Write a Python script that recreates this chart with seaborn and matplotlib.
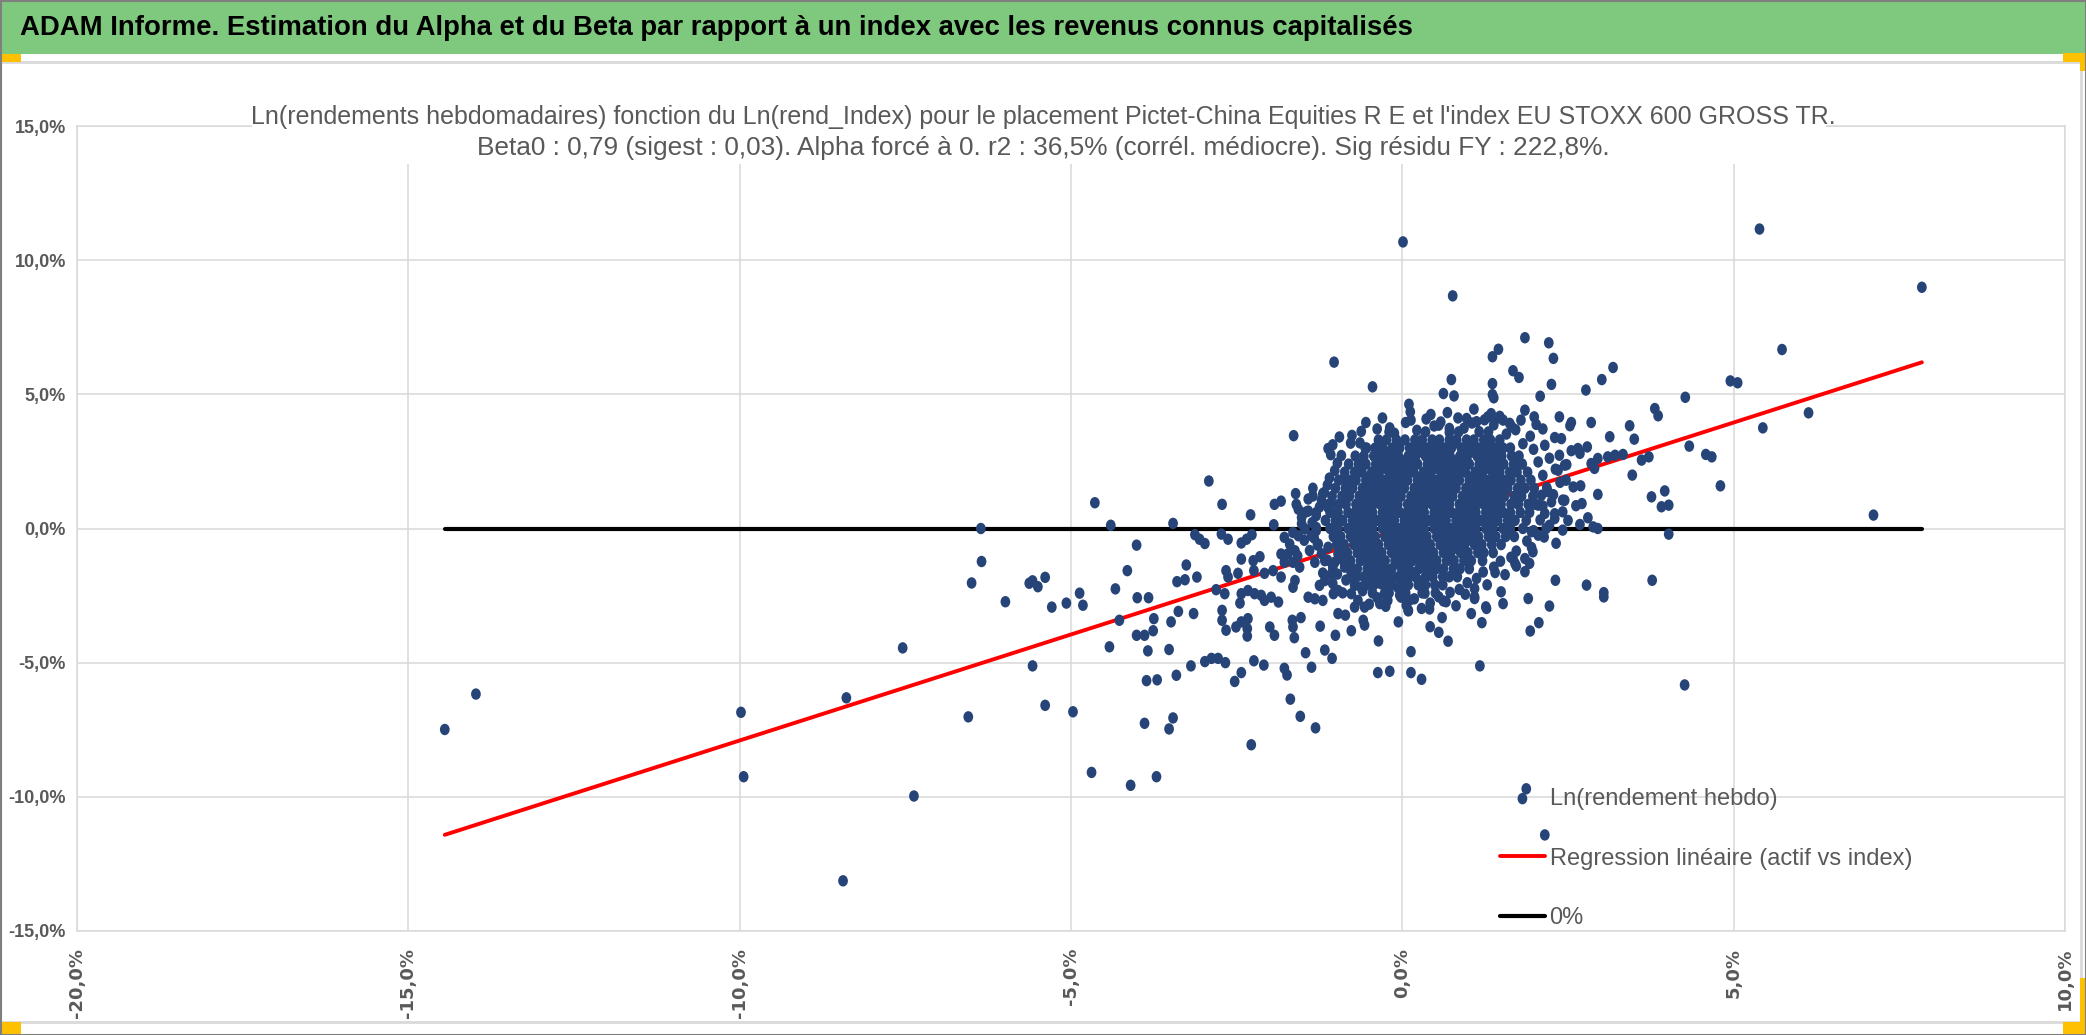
import numpy as np
import pandas as pd
import matplotlib
matplotlib.use("Agg")
import matplotlib.pyplot as plt
import seaborn as sns
from matplotlib.patches import Rectangle
from matplotlib.lines import Line2D
from matplotlib.path import Path
from matplotlib.transforms import Affine2D
from matplotlib.markers import MarkerStyle
from matplotlib.ticker import FuncFormatter

# ---------------------------------------------------------------- texts
banner_title = ("ADAM Informe. Estimation du Alpha et du Beta par rapport à un index "
                "avec les revenus connus capitalisés")
title_line1 = ("Ln(rendements hebdomadaires) fonction du Ln(rend_Index) pour le placement "
               "Pictet-China Equities R E et l'index EU STOXX 600 GROSS TR.")
title_line2 = ("Beta0 : 0,79 (sigest : 0,03). Alpha forcé à 0. r2 : 36,5% (corrél. médiocre). "
               "Sig résidu FY : 222,8%.")
legend_labels = ["Ln(rendement hebdo)", "Regression linéaire (actif vs index)", "0%"]

beta0 = 0.79
x_ticks = [-20, -15, -10, -5, 0, 5, 10]
y_ticks = [-15, -10, -5, 0, 5, 10, 15]

# ---------------------------------------------------------------- data (% values)
# isolated points on the left side (index return, asset return)
left_x = [-14.45, -13.98, -9.98, -9.94, -8.39, -8.44, -7.54, -7.37, -6.55, -6.36, -6.35, -6.50,
          -5.99, -5.63, -5.58, -5.50, -5.39, -5.29, -5.07, -4.87, -4.82, -4.33, -4.42, -5.58,
          -5.39, -4.97, -4.69, -4.64, -4.40]
left_y = [-7.49, -6.17, -6.85, -9.25, -6.31, -13.13, -4.45, -9.97, -7.02, 0.00, -1.23, -2.03,
          -2.73, -2.04, -1.95, -2.17, -1.82, -2.93, -2.78, -2.41, -2.86, -2.25, -4.41, -5.12,
          -6.59, -6.83, -9.09, 0.96, 0.12]

# points between -4.5% and 0% of index return
mid_left_pts = [
    (-0.45, 5.28), (-1.03, 6.20), (-1.64, 3.46), (-0.76, 3.47), (-0.64, 3.19), (-0.54, 3.00),
    (-0.37, 2.85), (-0.33, 2.78), (-1.05, 3.12), (-1.08, 2.75), (-2.92, 1.77), (-2.72, 0.90),
    (-1.61, 1.30), (-1.35, 1.21), (-1.20, 1.30), (-0.87, 1.89), (-0.85, 1.77), (-1.93, 0.90),
    (-1.83, 1.02), (-2.29, 0.51), (-3.46, 0.19), (-1.94, 0.14), (-4.01, -0.62), (-3.13, -0.23),
    (-3.06, -0.40), (-2.98, -0.56), (-2.73, -0.21), (-2.63, -0.40), (-2.43, -0.54), (-2.35, -0.40),
    (-2.27, -0.23), (-2.43, -1.14), (-2.15, -1.05), (-3.26, -1.36), (-4.15, -1.57), (-3.40, -1.98),
    (-3.28, -1.91), (-3.10, -1.81), (-4.00, -2.58), (-3.83, -2.58), (-2.66, -1.57), (-2.63, -1.81),
    (-2.48, -1.67), (-2.24, -1.57), (-2.25, -1.20), (-2.08, -1.67), (-1.95, -1.57), (-1.83, -1.81),
    (-2.81, -2.28), (-2.68, -2.43), (-2.43, -2.43), (-2.33, -2.31), (-2.23, -2.43), (-2.13, -2.49),
    (-2.08, -2.68), (-1.98, -2.56), (-1.87, -2.74), (-2.45, -2.78), (-4.27, -3.42), (-3.75, -3.36),
    (-3.49, -3.48), (-3.38, -3.09), (-3.15, -3.17), (-4.01, -3.98), (-3.89, -3.98), (-3.76, -3.81),
    (-3.84, -4.56), (-3.52, -4.51), (-2.72, -3.05), (-2.72, -3.42), (-2.66, -3.79), (-2.51, -3.67),
    (-2.43, -3.48), (-2.33, -3.36), (-2.34, -3.73), (-2.34, -4.01), (-2.00, -3.67), (-1.93, -3.98),
    (-1.66, -3.42), (-1.65, -3.67), (-1.53, -3.32), (-1.63, -4.07), (-1.24, -3.64), (-1.01, -3.98),
    (-0.97, -3.17), (-0.86, -3.23), (-0.77, -3.81), (-0.59, -3.42), (-0.57, -3.60), (-0.06, -3.48),
    (0.09, -3.07), (-0.36, -4.19), (-1.46, -4.63), (-1.17, -4.53), (-1.06, -4.84), (0.13, -4.59),
    (-3.19, -5.12), (-2.98, -4.96), (-2.88, -4.84), (-2.78, -4.84), (-2.67, -5.00), (-3.86, -5.67),
    (-3.70, -5.64), (-3.41, -5.47), (-2.53, -5.70), (-2.43, -5.37), (-2.24, -4.93), (-2.09, -5.09),
    (-1.78, -5.21), (-1.74, -5.46), (-1.37, -5.17), (-0.37, -5.37), (-0.19, -5.32), (0.13, -5.37),
    (-1.69, -6.36), (-1.54, -7.00), (-1.31, -7.43), (-3.89, -7.26), (-3.46, -7.06), (-3.52, -7.47),
    (-2.28, -8.06), (-3.71, -9.25), (-4.10, -9.57),
    (-1.57, 0.72), (-1.42, 0.65), (-1.52, 0.41), (-1.30, 0.59), (-1.12, 0.78), (-1.07, 0.90),
    (-1.47, -0.02), (-1.30, 0.04), (-1.37, -0.27), (-1.57, -0.27), (-1.78, -0.33), (-1.70, -0.58),
    (-1.83, -0.95), (-1.73, -0.95), (-1.62, -0.83), (-1.65, -1.26), (-1.78, -1.26), (-1.55, -1.44),
    (-1.62, -1.94), (-1.65, -2.19), (-1.42, -2.56), (-1.32, -2.62), (-1.20, -2.68), (-1.27, -0.58),
    (-1.12, -0.70), (-0.97, -0.95), (-1.17, -1.20), (-1.02, -1.26), (-1.32, -1.26), (-1.07, -1.69),
    (-1.17, -1.94), (-1.25, -2.12), (-0.97, -2.31), (-1.04, -2.43), (-0.87, -1.44), (-0.77, -1.69),
    (-0.72, -1.94), (-0.62, -2.19), (-0.77, -2.43), (-0.67, -2.68), (-0.57, -2.93), (-0.72, -2.93),
    (-0.52, -1.81), (-0.42, -1.94), (-0.32, -2.06), (-0.27, -2.43), (-0.22, -2.68), (-0.34, -2.80),
    (-0.17, -1.94), (-0.07, -2.19), (-0.02, -2.56), (0.09, -3.05),
]

# points with positive index return
right_pts = [
    (0.01, 10.68), (0.76, 8.67), (1.85, 7.11), (2.21, 6.92), (2.28, 6.34), (1.36, 6.40), (1.45, 6.68),
    (1.67, 5.88), (1.76, 5.63), (2.25, 5.37), (3.18, 6.00), (3.01, 5.55), (0.74, 5.55), (0.62, 5.03),
    (0.78, 4.94), (1.36, 5.40), (1.36, 4.99), (1.38, 4.87), (2.08, 4.93), (2.77, 5.16), (0.10, 4.63),
    (0.13, 4.04), (-0.19, 3.75), (0.43, 4.25), (3.81, 4.47), (3.86, 4.20), (3.43, 3.83), (3.50, 3.33),
    (3.13, 3.42), (2.85, 3.95), (2.55, 3.95), (2.53, 3.83), (2.37, 4.16), (1.99, 4.16), (1.85, 4.41),
    (3.72, 2.67), (3.61, 2.55), (3.47, 1.99), (3.76, 1.18), (3.96, 1.40), (4.02, 0.87), (3.91, 0.81),
    (3.77, -1.93), (2.78, -2.11), (3.04, -2.39), (3.04, -2.55), (2.31, -1.93), (2.22, -2.89),
    (1.90, -2.61), (2.65, 2.98), (2.79, 3.04), (2.68, 2.80), (2.95, 2.61), (3.10, 2.67), (3.21, 2.73),
    (3.33, 2.76), (2.85, 2.42), (2.90, 2.24), (2.69, 1.59), (2.71, 0.93), (2.95, 1.27), (2.42, 0.62),
    (2.42, 1.06), (2.42, -0.06), (2.68, 0.15), (2.80, 0.40), (2.88, 0.06), (2.95, 0.00), (2.45, 2.36),
    (2.37, 2.73), (2.35, 2.17), (2.47, 1.80), (2.10, 1.24), (2.20, 1.37), (2.25, 0.99), (2.05, 0.87),
    (2.15, 0.56), (2.30, 0.37), (2.17, 0.00), (2.05, -0.25), (1.95, -0.12), (1.97, -0.87),
    (1.92, -1.30), (1.85, -1.61), (1.70, -1.30), (1.67, -1.12), (1.40, -1.64), (1.49, -2.36),
    (1.52, -2.80), (1.27, -2.98), (1.09, -2.55), (0.66, -2.73), (0.81, -2.88), (0.41, -3.00),
    (0.29, -2.98), (0.11, -2.67), (0.55, 3.85), (0.71, 3.73), (0.97, 4.10), (1.12, 3.98),
    (1.29, 4.16), (1.42, 4.10), (1.52, 4.04), (1.65, 3.79),
    (5.39, 11.16), (7.84, 8.99), (5.73, 6.67), (4.95, 5.50), (5.06, 5.43), (4.27, 4.89),
    (6.13, 4.31), (5.44, 3.75), (4.33, 3.07), (4.58, 2.76), (4.67, 2.67), (4.80, 1.59),
    (7.11, 0.50), (4.02, -0.21), (4.26, -5.83),
    (2.06, -3.51), (1.93, -3.82), (1.26, -2.92), (1.20, -3.51), (1.04, -3.17), (1.09, -2.61),
    (1.09, -2.24), (1.17, -5.12), (0.60, -3.32), (0.69, -4.20), (0.42, -3.66), (0.55, -3.87),
    (0.29, -5.62), (1.87, -9.70), (2.15, -11.42),
]

# medium density ring around the core
ring_pts = [
    (-0.62, 3.62), (-0.38, 3.71), (-0.12, 3.55), (0.22, 3.66), (0.48, 3.82), (0.71, 3.58), (0.93, 3.74),
    (1.16, 3.61), (1.38, 3.86), (1.57, 3.52), (1.71, 3.68), (1.93, 3.44), (2.12, 3.71), (2.30, 3.39),
    (0.05, 3.95), (0.36, 4.08), (0.58, 3.97), (0.84, 4.12), (1.05, 3.93), (1.24, 4.05), (1.47, 4.18),
    (1.62, 3.92), (1.79, 4.04), (2.02, 3.88), (-0.95, 3.41), (-0.78, 3.18), (-1.12, 2.98), (-0.92, 2.72),
    (1.82, 3.16), (1.98, 2.95), (2.15, 3.10), (2.22, 2.62), (2.05, 2.48), (2.31, 2.21), (2.12, 1.98),
    (2.38, 1.72), (2.18, 1.52), (2.28, 1.26), (2.45, 1.05), (2.12, 0.84), (2.30, 0.55), (2.08, 0.32),
    (2.22, 0.12), (1.98, -0.08), (2.14, -0.32), (1.88, -0.47), (1.95, -0.71), (1.72, -0.84),
    (1.64, -1.07), (1.48, -1.22), (1.38, -1.44), (1.22, -1.62), (1.12, -1.86), (0.98, -2.02),
    (0.86, -2.27), (0.72, -2.38), (0.55, -2.55), (0.34, -2.41), (0.18, -2.62), (-0.04, -2.48),
    (-0.22, -2.36), (-0.38, -2.58), (-0.60, -2.32), (-0.72, -2.12), (-0.85, -1.92), (-0.98, -1.70),
    (-1.05, -1.45), (-1.13, -1.18), (-1.22, -0.94), (-1.28, -0.62), (-1.33, -0.36), (-1.30, -0.08),
    (-1.36, 0.22), (-1.30, 0.48), (-1.25, 0.80), (-1.22, 1.06), (-1.18, 1.34), (-1.13, 1.62),
    (-1.10, 1.88), (-1.02, 2.16), (-0.98, 2.44), (-1.45, 0.62), (-1.52, 0.18), (-1.48, -0.44),
    (-1.40, -0.82), (-1.35, 1.50), (-1.42, 1.10), (-1.60, 0.90), (-1.65, -0.15), (-1.58, -1.02),
    (-1.20, -1.66), (-1.05, -2.05), (-0.90, -2.40), (-0.50, -2.82), (-0.25, -2.90), (0.06, -2.86),
    (0.42, -2.78), (0.62, -2.70), (0.95, -2.45), (1.28, -2.10), (1.55, -1.72), (1.72, -1.40),
    (1.85, -1.12), (2.32, -0.55), (2.50, 0.30), (2.62, 0.85), (2.58, 1.55), (2.48, 2.38), (2.55, 2.90),
    (2.40, 3.35), (0.12, 4.35), (0.68, 4.32), (1.08, 4.45), (1.34, 4.28), (-0.30, 4.12), (-0.55, 3.95),
]

# dense core: asset-return level of each row and the index returns read along it
core_levels = [3.3, 3.0, 2.7, 2.4, 2.1, 1.8, 1.5, 1.2, 0.9, 0.6, 0.3, 0.0,
               -0.3, -0.6, -0.9, -1.2, -1.5, -1.8, -2.1]
core_rows = [
    [-0.36, -0.24, -0.09, 0.04, 0.19, 0.30, 0.45, 0.56, 0.71, 0.82, 0.97, 1.08, 1.23, 1.33, 1.47],
    [-0.56, -0.41, -0.30, -0.15, -0.04, 0.11, 0.22, 0.37, 0.48, 0.63, 0.74, 0.89, 1.00, 1.15, 1.26, 1.41, 1.52, 1.63],
    [-0.71, -0.58, -0.43, -0.32, -0.17, -0.06, 0.09, 0.20, 0.35, 0.46, 0.61, 0.72, 0.87, 0.98, 1.13, 1.24, 1.39, 1.50, 1.65, 1.76],
    [-0.81, -0.66, -0.55, -0.40, -0.29, -0.14, -0.03, 0.12, 0.23, 0.38, 0.49, 0.64, 0.75, 0.90, 1.01, 1.16, 1.27, 1.42, 1.53, 1.68, 1.81],
    [-0.87, -0.72, -0.61, -0.46, -0.35, -0.20, -0.09, 0.06, 0.17, 0.32, 0.43, 0.58, 0.69, 0.84, 0.95, 1.10, 1.21, 1.36, 1.47, 1.62, 1.73, 1.89],
    [-0.96, -0.81, -0.70, -0.55, -0.44, -0.29, -0.18, -0.03, 0.08, 0.23, 0.34, 0.49, 0.60, 0.75, 0.86, 1.01, 1.12, 1.27, 1.38, 1.53, 1.64, 1.79, 1.94],
    [-1.01, -0.86, -0.75, -0.60, -0.49, -0.34, -0.23, -0.08, 0.03, 0.18, 0.29, 0.44, 0.55, 0.70, 0.81, 0.96, 1.07, 1.22, 1.33, 1.48, 1.59, 1.74, 1.85, 1.99],
    [-1.06, -0.91, -0.80, -0.65, -0.54, -0.39, -0.28, -0.13, -0.02, 0.13, 0.24, 0.39, 0.50, 0.65, 0.76, 0.91, 1.02, 1.17, 1.28, 1.43, 1.54, 1.69, 1.80, 1.97],
    [-1.11, -0.96, -0.85, -0.70, -0.59, -0.44, -0.33, -0.18, -0.07, 0.08, 0.19, 0.34, 0.45, 0.60, 0.71, 0.86, 0.97, 1.12, 1.23, 1.38, 1.49, 1.64, 1.75, 1.90, 2.01],
    [-1.09, -0.97, -0.82, -0.71, -0.56, -0.45, -0.30, -0.19, -0.04, 0.07, 0.22, 0.33, 0.48, 0.59, 0.74, 0.85, 1.00, 1.11, 1.26, 1.37, 1.52, 1.63, 1.78, 1.92],
    [-1.16, -1.01, -0.90, -0.75, -0.64, -0.49, -0.38, -0.23, -0.12, 0.03, 0.14, 0.29, 0.40, 0.55, 0.66, 0.81, 0.92, 1.07, 1.18, 1.33, 1.44, 1.59, 1.70, 1.87],
    [-1.09, -0.97, -0.82, -0.71, -0.56, -0.45, -0.30, -0.19, -0.04, 0.07, 0.22, 0.33, 0.48, 0.59, 0.74, 0.85, 1.00, 1.11, 1.26, 1.37, 1.52, 1.63, 1.82],
    [-1.04, -0.93, -0.78, -0.67, -0.52, -0.41, -0.26, -0.15, 0.00, 0.11, 0.26, 0.37, 0.52, 0.63, 0.78, 0.89, 1.04, 1.15, 1.30, 1.41, 1.56, 1.69],
    [-0.99, -0.88, -0.73, -0.62, -0.47, -0.36, -0.21, -0.10, 0.05, 0.16, 0.31, 0.42, 0.57, 0.68, 0.83, 0.94, 1.09, 1.20, 1.35, 1.49],
    [-0.94, -0.83, -0.68, -0.57, -0.42, -0.31, -0.16, -0.05, 0.10, 0.21, 0.36, 0.47, 0.62, 0.73, 0.88, 0.99, 1.14, 1.23, 1.37],
    [-0.89, -0.78, -0.63, -0.52, -0.37, -0.26, -0.11, 0.00, 0.15, 0.26, 0.41, 0.52, 0.67, 0.78, 0.93, 1.04, 1.21],
    [-0.79, -0.68, -0.53, -0.42, -0.27, -0.16, -0.01, 0.10, 0.25, 0.36, 0.51, 0.62, 0.77, 0.87, 1.01],
    [-0.69, -0.58, -0.43, -0.32, -0.17, -0.06, 0.09, 0.20, 0.35, 0.46, 0.61, 0.71, 0.83],
    [-0.54, -0.43, -0.28, -0.17, -0.02, 0.09, 0.24, 0.35, 0.49, 0.61],
]

# dense core, second (partial) pass between the rows above
core2_levels = [3.6, 3.15, 2.85, 2.55, 2.25, 1.95, 1.65, 1.35, 1.05, 0.75, 0.45, 0.15,
                -0.15, -0.45, -0.75, -1.05, -1.35, -1.65, -1.95, -2.4]
core2_rows = [
    [-0.20, 0.35, 0.85, 1.30],
    [-0.06, 0.25, 0.51, 0.77, 1.03, 1.30],
    [-0.23, -0.10, 0.16, 0.29, 0.55, 0.68, 0.94, 1.07, 1.33],
    [-0.35, -0.22, 0.05, 0.18, 0.44, 0.57, 0.83, 0.96, 1.22, 1.35],
    [-0.40, -0.27, -0.01, 0.12, 0.38, 0.51, 0.77, 0.90, 1.16, 1.29, 1.42],
    [-0.49, -0.36, -0.10, 0.03, 0.29, 0.42, 0.68, 0.81, 1.07, 1.20, 1.46],
    [-0.54, -0.41, -0.15, -0.02, 0.24, 0.37, 0.63, 0.76, 1.02, 1.15, 1.41, 1.54],
    [-0.59, -0.46, -0.20, -0.07, 0.19, 0.32, 0.58, 0.71, 0.97, 1.10, 1.36, 1.49],
    [-0.63, -0.50, -0.24, -0.11, 0.15, 0.28, 0.54, 0.67, 0.93, 1.06, 1.32, 1.45],
    [-0.65, -0.52, -0.26, -0.13, 0.13, 0.26, 0.52, 0.65, 0.91, 1.04, 1.30, 1.43],
    [-0.68, -0.55, -0.29, -0.16, 0.10, 0.23, 0.49, 0.62, 0.88, 1.01, 1.27, 1.40],
    [-0.67, -0.54, -0.28, -0.15, 0.11, 0.24, 0.50, 0.63, 0.89, 1.02, 1.28],
    [-0.63, -0.50, -0.24, -0.11, 0.15, 0.28, 0.54, 0.67, 0.93, 1.06],
    [-0.58, -0.45, -0.19, -0.06, 0.20, 0.33, 0.59, 0.72, 0.98],
    [-0.53, -0.40, -0.14, -0.01, 0.25, 0.38, 0.64, 0.77],
    [-0.48, -0.35, -0.09, 0.04, 0.30, 0.43, 0.69],
    [-0.43, -0.30, -0.04, 0.09, 0.35, 0.48],
    [-0.35, -0.22, 0.04, 0.17, 0.43],
    [-0.23, 0.03, 0.29],
    [-0.45, -0.20, 0.05, 0.30, 0.50],
]

# ---------------------------------------------------------------- assemble
xs, ys = list(left_x), list(left_y)
for grp in (mid_left_pts, right_pts, ring_pts):
    for a, b in grp:
        xs.append(a)
        ys.append(b)
for levels, rows in ((core_levels, core_rows), (core2_levels, core2_rows)):
    for lvl, row in zip(levels, rows):
        for a in row:
            xs.append(a)
            ys.append(lvl)
df = pd.DataFrame({"index_ret": xs, "asset_ret": ys})

x_lo, x_hi = df["index_ret"].min(), df["index_ret"].max()
reg_df = pd.DataFrame({"x": [x_lo, x_hi], "y": [beta0 * x_lo, beta0 * x_hi]})
zero_df = pd.DataFrame({"x": [x_lo, x_hi], "y": [0.0, 0.0]})

# ---------------------------------------------------------------- style
sns.set_theme(style="white")
FONT = ["Liberation Sans Narrow", "Liberation Sans", "DejaVu Sans"]
plt.rcParams["font.family"] = FONT

W, H = 2086, 1035
fig = plt.figure(figsize=(W / 100, H / 100), dpi=100)
fig.patch.set_facecolor("white")


def fx(px):
    return px / W


def fy(py):
    return 1 - py / H


def frect(x0, y0, x1, y1, **kw):
    r = Rectangle((fx(x0), fy(y1)), fx(x1 - x0), (y1 - y0) / H,
                  transform=fig.transFigure, **kw)
    fig.patches.append(r)
    return r


# banner
frect(0, 0, W, 54, facecolor="#7FC97F", edgecolor="none", zorder=0)
fig.text(fx(20), fy(28), banner_title, ha="left", va="center", fontsize=19.8,
         fontweight="bold", color="black", family=FONT)

# chart frame lines
GRID = "#D9D9D9"
fig.lines.append(Line2D([fx(0), fx(2081)], [fy(62), fy(62)], transform=fig.transFigure,
                        color=GRID, lw=2))
fig.lines.append(Line2D([fx(2081), fx(2081)], [fy(62), fy(1022)], transform=fig.transFigure,
                        color=GRID, lw=2))
fig.lines.append(Line2D([fx(0), fx(2081)], [fy(1022), fy(1022)], transform=fig.transFigure,
                        color=GRID, lw=2))

# yellow corner marks
YEL = "#FFC000"
frect(0, 54, 21, 62, facecolor=YEL, edgecolor="none", zorder=2)
frect(2063, 53, 2086, 62, facecolor=YEL, edgecolor="none", zorder=2)
frect(2080, 53, 2086, 71, facecolor=YEL, edgecolor="none", zorder=2)
frect(2080, 978, 2086, 1034, facecolor=YEL, edgecolor="none", zorder=2)
frect(2063, 1022, 2086, 1034, facecolor=YEL, edgecolor="none", zorder=2)
frect(0, 1022, 21, 1034, facecolor=YEL, edgecolor="none", zorder=2)

# outer border
frect(0.5, 0.5, W - 0.5, H - 0.5, facecolor="none", edgecolor="#7F7F7F", lw=1.5, zorder=5)

# ---------------------------------------------------------------- axes
ax = fig.add_axes([fx(77), fy(931), fx(2065 - 77), (931 - 126) / H])
ax.set_facecolor("white")

DOT = "#264478"
ell = Path.unit_circle().transformed(Affine2D().scale(0.85, 1.0))
dot_marker = MarkerStyle(ell)

sns.lineplot(data=reg_df, x="x", y="y", color="#FF0000", linewidth=2.8, ax=ax,
             label=legend_labels[1], zorder=2, sort=False)
sns.lineplot(data=zero_df, x="x", y="y", color="black", linewidth=3.0, ax=ax,
             label=legend_labels[2], zorder=2, sort=False)
sns.scatterplot(data=df, x="index_ret", y="asset_ret", color=DOT, marker=dot_marker,
                s=68, linewidth=0, edgecolor="none", ax=ax, label=legend_labels[0], zorder=3)

ax.set_xlim(x_ticks[0], x_ticks[-1])
ax.set_ylim(y_ticks[0], y_ticks[-1])
ax.set_xticks(x_ticks)
ax.set_yticks(y_ticks)
pct = FuncFormatter(lambda v, _: f"{v:.1f}%".replace(".", ","))
ax.xaxis.set_major_formatter(pct)
ax.yaxis.set_major_formatter(pct)
ax.set_xlabel("")
ax.set_ylabel("")
ax.grid(True, color=GRID, linewidth=1.1)
ax.set_axisbelow(True)
for sp in ax.spines.values():
    sp.set_color(GRID)
    sp.set_linewidth(1.1)
ax.tick_params(axis="both", length=0)
ax.tick_params(axis="x", pad=12)
ax.tick_params(axis="y", pad=8)
for lab in ax.get_xticklabels():
    lab.set_rotation(90)
    lab.set_family("DejaVu Sans")
    lab.set_fontweight("bold")
    lab.set_fontsize(13)
    lab.set_color("#595959")
for lab in ax.get_yticklabels():
    lab.set_family(FONT)
    lab.set_fontweight("bold")
    lab.set_fontsize(13)
    lab.set_color("#595959")

# legend in the order of the reference
handles, labels = ax.get_legend_handles_labels()
order = [labels.index(l) for l in legend_labels]
leg = ax.legend([handles[i] for i in order], [labels[i] for i in order],
                loc="lower left", bbox_to_anchor=(0.7158, 0.002), frameon=False,
                fontsize=17, labelcolor="#595959", handlelength=1.9, handletextpad=0.2,
                labelspacing=1.6, borderpad=0, borderaxespad=0, markerscale=1.0)

# chart title with white box over the top gridline
frect(252, 98, 1826, 164, facecolor="white", edgecolor="none", zorder=1)
fig.text(fx(1043), fy(117), title_line1, ha="center", va="center", fontsize=18,
         color="#595959", family=FONT, zorder=3)
fig.text(fx(1043), fy(148), title_line2, ha="center", va="center", fontsize=18.9,
         color="#595959", family=FONT, zorder=3)

fig.savefig("out.png", dpi=100, facecolor="white")
